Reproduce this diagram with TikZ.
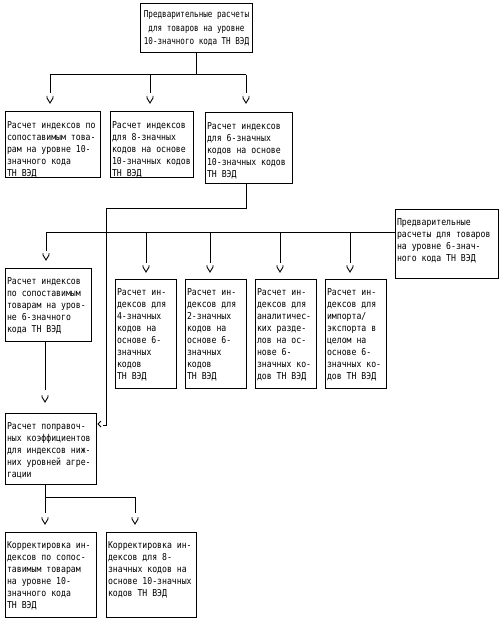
\documentclass[tikz,border=0pt]{standalone}
\usepackage{fontspec}
\newfontfamily\bxfont[FakeStretch=0.86]{DejaVu Sans Mono}
\newfontfamily\topfont[FakeStretch=0.80]{DejaVu Sans Mono}
\newcommand\boxtext[3]{\makebox[#1][l]{\parbox[c][#2][t]{300pt}{\bxfont\fontsize{9.5pt}{12pt}\selectfont\raggedright\rule{0pt}{16pt}#3}}}
\tikzset{
  box/.style={draw, line width=1pt, inner xsep=2pt, inner ysep=0pt, outer sep=0pt, anchor=north west},
  topbox/.style={draw, line width=1pt, outer sep=0pt, minimum width=109pt, minimum height=49pt, align=center, font=\topfont\fontsize{9.5pt}{13.5pt}\selectfont},
  conn/.style={line width=1pt},
  vtip/.pic={\draw[line width=0.9pt] (-3,0) -- (-3,2) -- (0,7) -- (3,2) -- (3,0);},
  ltip/.pic={\draw[line width=0.9pt] (3,-3) -- (0,0) -- (3,3);}
}
\begin{document}
\begin{tikzpicture}[x=1pt,y=-1pt]
\fill[white] (0,0) rectangle (501,623);
\useasboundingbox (0,0) rectangle (501,623);

\node[topbox] (top) at (196.5,28.5) {Предварительные расчеты\\для товаров на уровне\\10-значного кода ТН ВЭД};

\node[box] (b1) at (5,112) {\boxtext{91pt}{65pt}{Расчет индексов по\\сопоставимым това-\\рам на уровне 10-\\значного кода\\ТН ВЭД}};
\node[box] (b2) at (110,112) {\boxtext{79pt}{65pt}{Расчет индексов\\для 8-значных\\кодов на основе\\10-значных кодов\\ТН ВЭД}};
\node[box] (b3) at (205,113) {\boxtext{83pt}{70pt}{Расчет индексов\\для 6-значных\\кодов на основе\\10-значных кодов\\ТН ВЭД}};

\node[box] (r6) at (395,209) {\boxtext{99pt}{69pt}{Предварительные\\расчеты для товаров\\на уровне 6-знач-\\ного кода ТН ВЭД}};

\node[box] (c1) at (5,268) {\boxtext{82pt}{73pt}{Расчет индексов\\по сопоставимым\\товарам на уров-\\не 6-значного\\кода ТН ВЭД}};

\node[box] (d1) at (115,279) {\boxtext{57pt}{109pt}{Расчет ин-\\дексов для\\4-значных\\кодов на\\основе 6-\\значных\\кодов\\ТН ВЭД}};
\node[box] (d2) at (185,279) {\boxtext{57pt}{109pt}{Расчет ин-\\дексов для\\2-значных\\кодов на\\основе 6-\\значных\\кодов\\ТН ВЭД}};
\node[box] (d3) at (255,279) {\boxtext{57pt}{109pt}{Расчет ин-\\дексов для\\аналитичес-\\ких разде-\\лов на ос-\\нове 6-\\значных ко-\\дов ТН ВЭД}};
\node[box] (d4) at (325,279) {\boxtext{57pt}{109pt}{Расчет ин-\\дексов для\\импорта/\\экспорта в\\целом на\\основе 6-\\значных ко-\\дов ТН ВЭД}};

\node[box] (corr) at (5,413) {\boxtext{87pt}{71pt}{Расчет поправоч-\\ных коэффициентов\\для индексов ниж-\\них уровней агре-\\гации}};

\node[box] (k1) at (5,532) {\boxtext{87pt}{85pt}{Корректировка ин-\\дексов по сопос-\\тавимым товарам\\на уровне 10-\\значного кода\\ТН ВЭД}};
\node[box] (k2) at (106,532) {\boxtext{86pt}{85pt}{Корректировка ин-\\дексов для 8-\\значных кодов на\\основе 10-значных\\кодов ТН ВЭД}};

% top level connectors
\coordinate (jA) at (top.south |- 0,75);
\coordinate (jAl) at (50,75);
\coordinate (jAm) at (150,75);
\coordinate (jAr) at (246,75);
\draw[conn] (top.south) -- (jA);
\draw[conn] (jAl) -- (jAr);
\draw[conn] (jAl) -- ++(0,18);
\draw[conn] (jAm) -- ++(0,18);
\draw[conn] (jAr) -- ++(0,18);
\pic at (50,96) {vtip};
\pic at (150,96) {vtip};
\pic at (246,96) {vtip};

% b3 to correction box
\coordinate (jB) at (246,208);
\coordinate (jBl) at (106,208);
\coordinate (jBe) at (106,425);
\draw[conn] (b3.south -| jB) -- (jB) -- (jBl) -- (jBe) -- ++(-3,0);
\pic at (98,424) {ltip};

% 6-digit preliminary distribution
\coordinate (jC) at (r6.west |- 0,232);
\coordinate (jC1) at (46,232);
\coordinate (jC2) at (146,232);
\coordinate (jC3) at (210,232);
\coordinate (jC4) at (280,232);
\coordinate (jC5) at (350,232);
\draw[conn] (jC) -- (jC1);
\draw[conn] (jC1) -- ++(0,19);
\pic at (46,253) {vtip};
\foreach \p/\xx in {jC2/146,jC3/210,jC4/280,jC5/350}{
  \draw[conn] (\p) -- ++(0,31);
  \pic at (\xx,265) {vtip};
}

% c1 to correction
\coordinate (jD) at (45,390);
\draw[conn] (c1.south -| jD) -- (jD);
\pic at (45,395) {vtip};

% correction to corrected indices
\coordinate (jE) at (45,497);
\coordinate (jEr) at (135,497);
\draw[conn] (corr.south -| jE) -- ++(0,29);
\draw[conn] (jE) -- (jEr) -- ++(0,16);
\pic at (45,517) {vtip};
\pic at (135,517) {vtip};
\end{tikzpicture}
\end{document}
